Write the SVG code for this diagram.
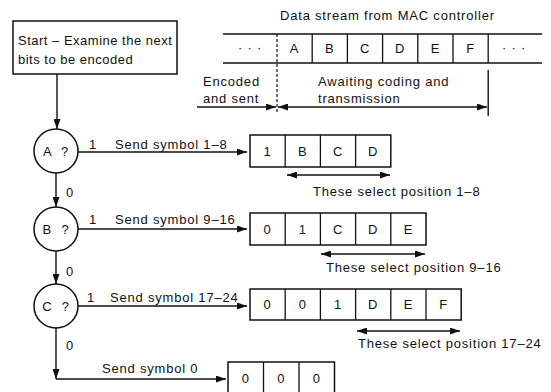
<svg xmlns="http://www.w3.org/2000/svg" width="551" height="392" viewBox="0 0 551 392">
<style>
text{font-family:"Liberation Sans",Arial,sans-serif;font-size:13px;letter-spacing:0.8px;fill:#111}
.c{text-anchor:middle}
.box{fill:#fff;stroke:#111;stroke-width:1.5}
.ln{stroke:#111;stroke-width:1.4;fill:none}
.cell{stroke:#111;stroke-width:1.3}
.dash{stroke:#111;stroke-width:1.2;stroke-dasharray:3 2}
</style>
<defs>
<marker id="ah" viewBox="0 0 10 7" refX="10" refY="3.5" markerWidth="10" markerHeight="7" markerUnits="userSpaceOnUse" orient="auto-start-reverse">
<path d="M0,0 L10,3.5 L0,7 z" fill="#111"/>
</marker>
</defs>
<rect width="551" height="392" fill="#fff"/>

<g id="start">
<rect class="box" x="13" y="21" width="164" height="53"/>
<text x="18" y="45" style="letter-spacing:0.5px">Start – Examine the next</text>
<text x="18" y="64" style="letter-spacing:0.5px">bits to be encoded</text>
</g>

<g id="stream">
<text x="280" y="20">Data stream from MAC controller</text>
<line class="ln" x1="223" y1="34" x2="542" y2="34"/>
<line class="ln" x1="223" y1="63" x2="542" y2="63"/>
<line class="dash" x1="277" y1="34" x2="277" y2="113"/>
<line class="cell" x1="312.2" y1="34" x2="312.2" y2="63"/>
<line class="cell" x1="347.4" y1="34" x2="347.4" y2="63"/>
<line class="cell" x1="382.6" y1="34" x2="382.6" y2="63"/>
<line class="cell" x1="417.8" y1="34" x2="417.8" y2="63"/>
<line class="cell" x1="453" y1="34" x2="453" y2="63"/>
<line class="cell" x1="488.2" y1="34" x2="488.2" y2="63"/>
<line class="ln" x1="488.2" y1="70" x2="488.2" y2="116"/>
<text class="c" x="250" y="52">· · ·</text>
<text class="c" x="294.6" y="53">A</text>
<text class="c" x="329.8" y="53">B</text>
<text class="c" x="365" y="53">C</text>
<text class="c" x="400.2" y="53">D</text>
<text class="c" x="435.4" y="53">E</text>
<text class="c" x="470.6" y="53">F</text>
<text class="c" x="514" y="52">· · ·</text>
<text x="203" y="86">Encoded</text>
<text x="203" y="103">and sent</text>
<text x="318" y="86">Awaiting coding and</text>
<text x="318" y="103">transmission</text>
</g>

<g id="nodeA">
<circle class="box" cx="56" cy="151" r="22"/>
<text class="c" x="56" y="156" word-spacing="5">A ?</text>
</g>
<g id="nodeB">
<circle class="box" cx="56" cy="229" r="22"/>
<text class="c" x="56" y="234" word-spacing="5">B ?</text>
</g>
<g id="nodeC">
<circle class="box" cx="56" cy="306" r="22"/>
<text class="c" x="56" y="311" word-spacing="5">C ?</text>
</g>

<g id="row1">
<rect class="box" x="250" y="135" width="140.8" height="32"/>
<line class="cell" x1="285.2" y1="135" x2="285.2" y2="167"/>
<line class="cell" x1="320.4" y1="135" x2="320.4" y2="167"/>
<line class="cell" x1="355.6" y1="135" x2="355.6" y2="167"/>
<text class="c" x="267.6" y="156">1</text>
<text class="c" x="302.8" y="156">B</text>
<text class="c" x="338" y="156">C</text>
<text class="c" x="373.2" y="156">D</text>
<text x="313" y="196">These select position 1–8</text>
</g>

<g id="row2">
<rect class="box" x="250" y="213" width="176" height="32"/>
<line class="cell" x1="285.2" y1="213" x2="285.2" y2="245"/>
<line class="cell" x1="320.4" y1="213" x2="320.4" y2="245"/>
<line class="cell" x1="355.6" y1="213" x2="355.6" y2="245"/>
<line class="cell" x1="390.8" y1="213" x2="390.8" y2="245"/>
<text class="c" x="267.6" y="234">0</text>
<text class="c" x="302.8" y="234">1</text>
<text class="c" x="338" y="234">C</text>
<text class="c" x="373.2" y="234">D</text>
<text class="c" x="408.4" y="234">E</text>
<text x="326" y="272">These select position 9–16</text>
</g>

<g id="row3">
<rect class="box" x="250" y="289" width="211.2" height="31"/>
<line class="cell" x1="285.2" y1="289" x2="285.2" y2="320"/>
<line class="cell" x1="320.4" y1="289" x2="320.4" y2="320"/>
<line class="cell" x1="355.6" y1="289" x2="355.6" y2="320"/>
<line class="cell" x1="390.8" y1="289" x2="390.8" y2="320"/>
<line class="cell" x1="426" y1="289" x2="426" y2="320"/>
<text class="c" x="267.6" y="309">0</text>
<text class="c" x="302.8" y="309">0</text>
<text class="c" x="338" y="309">1</text>
<text class="c" x="373.2" y="309">D</text>
<text class="c" x="408.4" y="309">E</text>
<text class="c" x="443.6" y="309">F</text>
<text x="358" y="348">These select position 17–24</text>
</g>

<g id="row4">
<rect class="box" x="228" y="362" width="106.5" height="34"/>
<line class="cell" x1="263.5" y1="362" x2="263.5" y2="396"/>
<line class="cell" x1="299" y1="362" x2="299" y2="396"/>
<text class="c" x="245.7" y="383">0</text>
<text class="c" x="281.2" y="383">0</text>
<text class="c" x="316.7" y="383">0</text>
</g>

<g id="connectors">
<line class="ln" x1="57" y1="74" x2="57" y2="129" marker-end="url(#ah)"/>
<line class="ln" x1="56" y1="173" x2="56" y2="207" marker-end="url(#ah)"/>
<line class="ln" x1="56" y1="251" x2="56" y2="284" marker-end="url(#ah)"/>
<line class="ln" x1="56" y1="328" x2="56" y2="379" marker-end="url(#ah)"/>
<line class="ln" x1="56" y1="379" x2="226" y2="379" marker-end="url(#ah)"/>
<line class="ln" x1="78" y1="152" x2="247" y2="152" marker-end="url(#ah)"/>
<line class="ln" x1="78" y1="229" x2="247" y2="229" marker-end="url(#ah)"/>
<line class="ln" x1="78" y1="306" x2="247" y2="306" marker-end="url(#ah)"/>
<line class="ln" x1="197" y1="107" x2="276" y2="107" marker-end="url(#ah)"/>
<line class="ln" x1="278" y1="107" x2="487" y2="107" marker-start="url(#ah)" marker-end="url(#ah)"/>
<line class="ln" x1="287" y1="175" x2="390" y2="175" marker-start="url(#ah)" marker-end="url(#ah)"/>
<line class="ln" x1="321" y1="254" x2="425" y2="254" marker-start="url(#ah)" marker-end="url(#ah)"/>
<line class="ln" x1="357" y1="331" x2="460" y2="331" marker-start="url(#ah)" marker-end="url(#ah)"/>
<text x="89" y="149">1</text>
<text x="115" y="149">Send symbol 1–8</text>
<text x="89" y="224">1</text>
<text x="115" y="224">Send symbol 9–16</text>
<text x="87" y="302">1</text>
<text x="110" y="302">Send symbol 17–24</text>
<text x="102" y="373">Send symbol 0</text>
<text x="66" y="197">0</text>
<text x="66" y="276">0</text>
<text x="66" y="350">0</text>
</g>
</svg>
